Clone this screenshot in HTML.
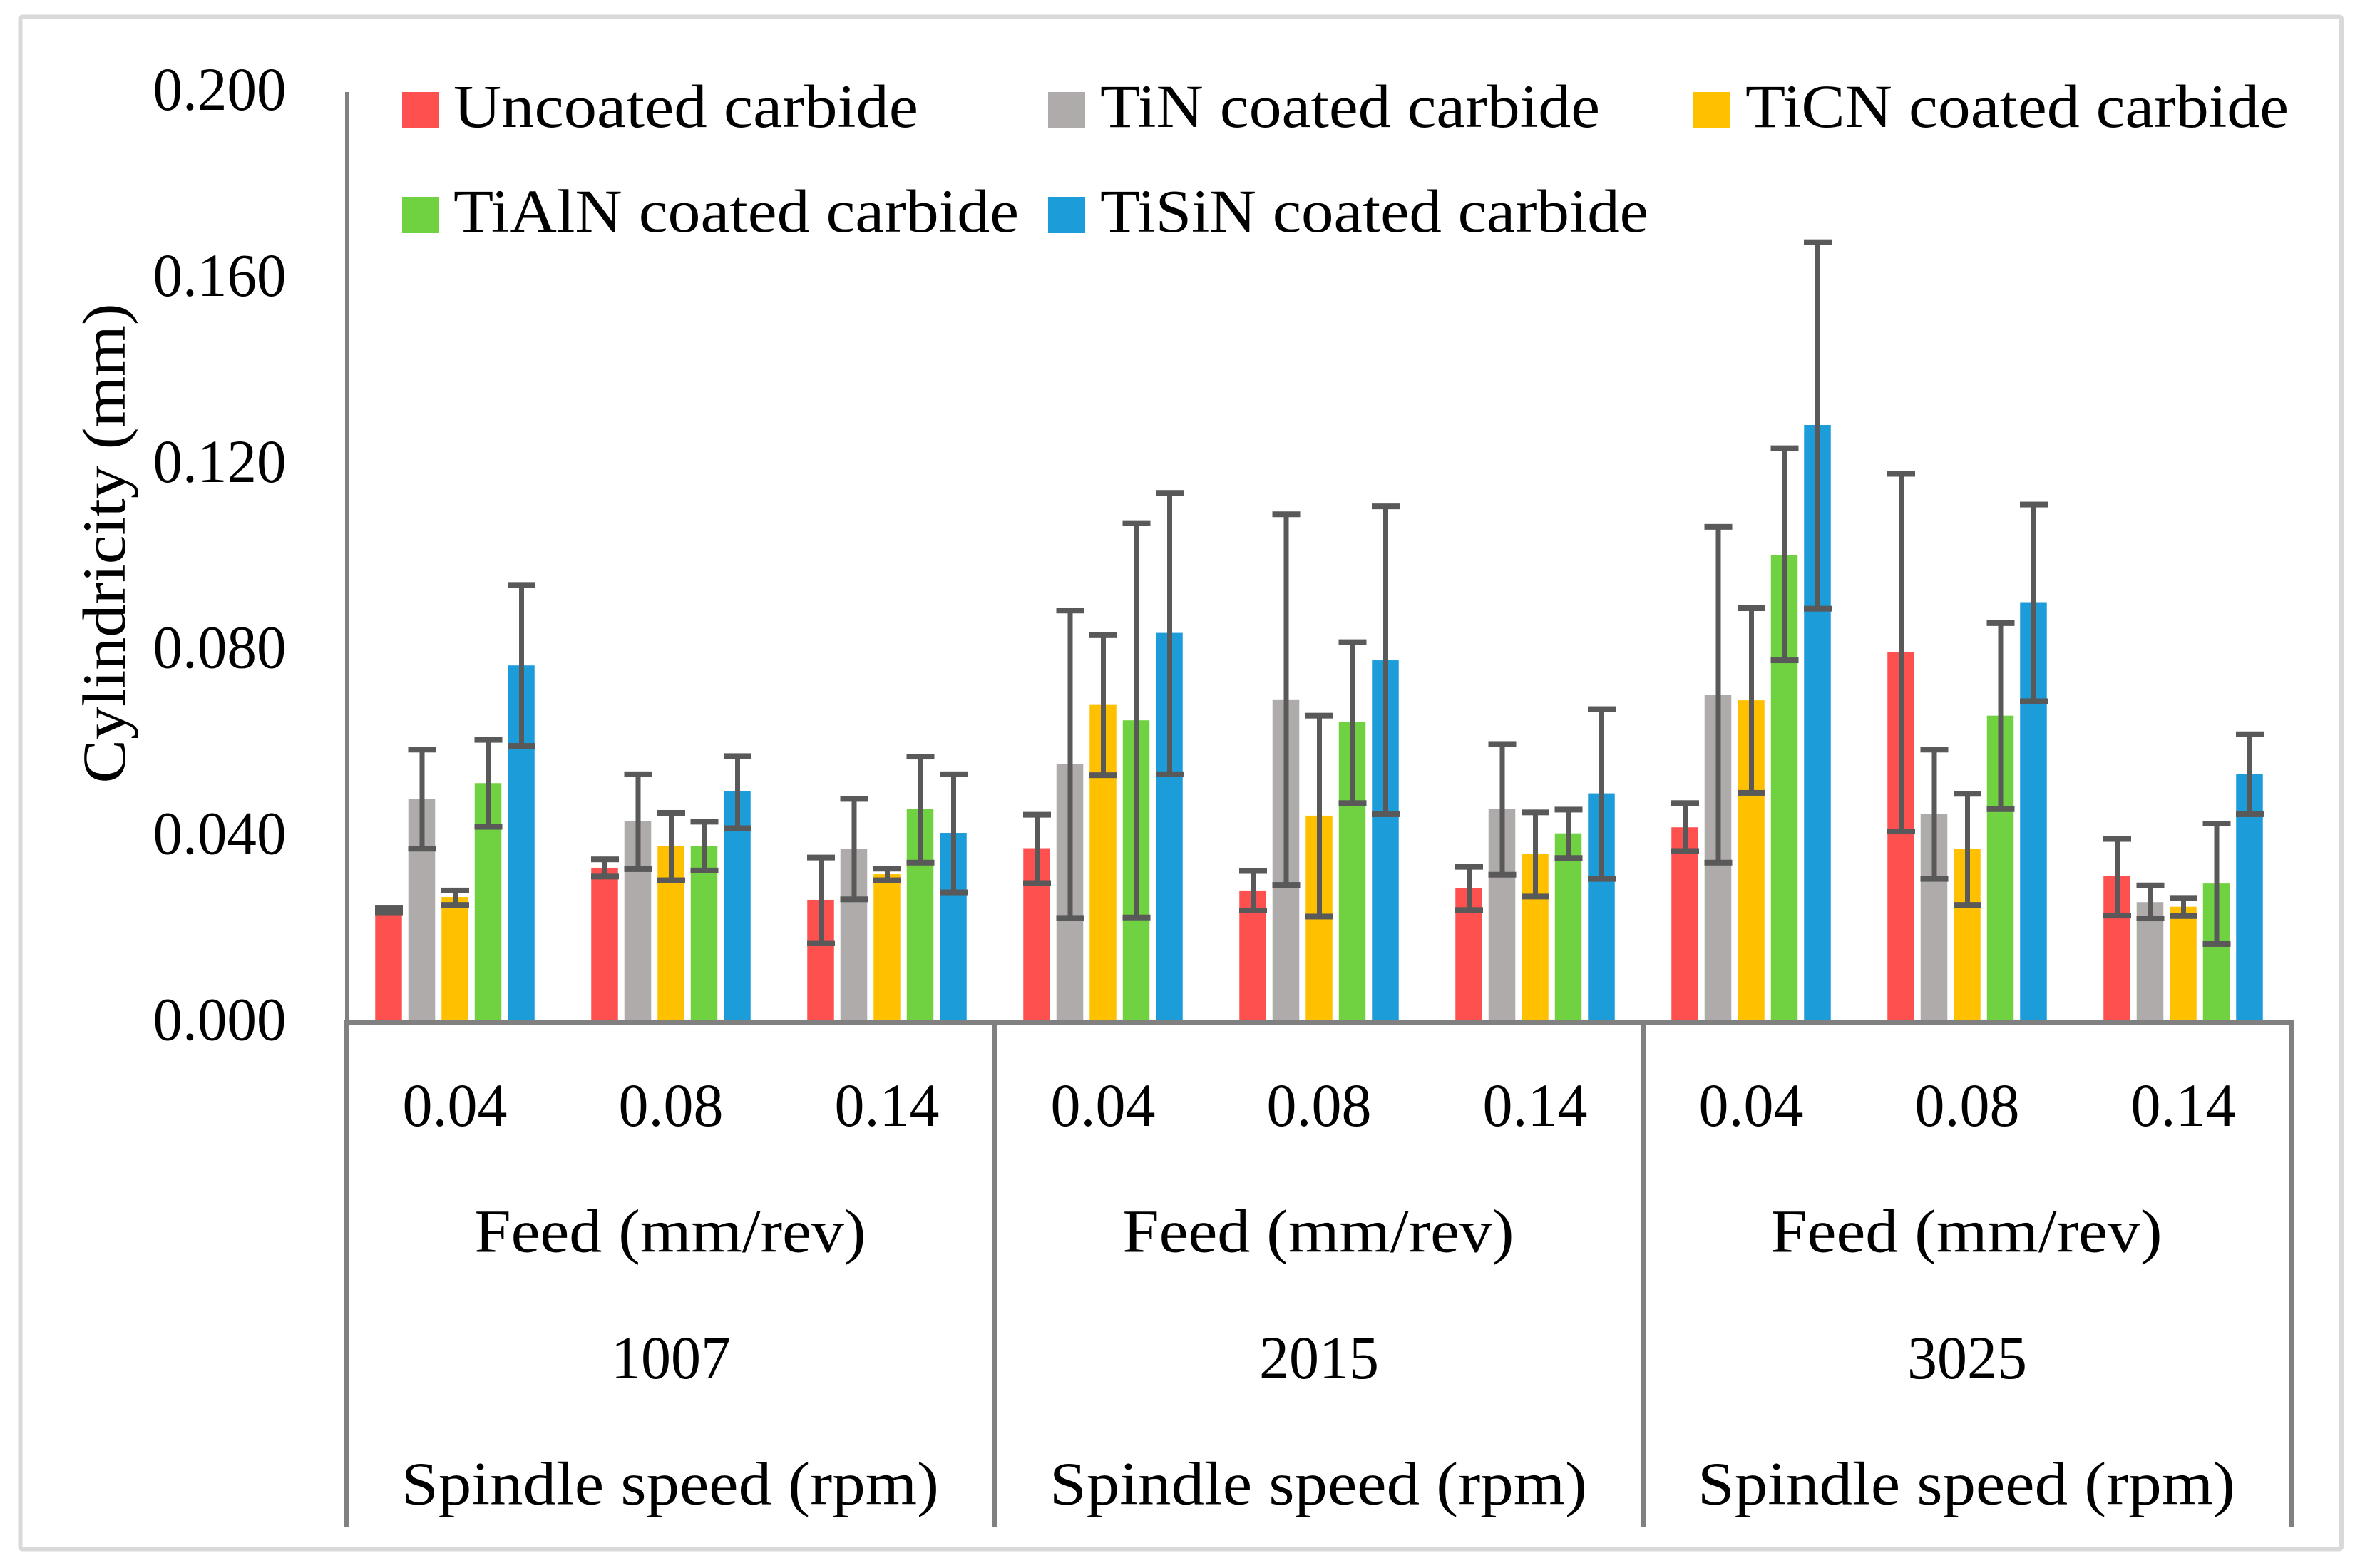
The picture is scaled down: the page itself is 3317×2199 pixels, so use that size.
<!DOCTYPE html>
<html lang="en">
<head>
<meta charset="utf-8">
<title>Cylindricity chart</title>
<style>
html,body{margin:0;padding:0;background:#fff;}
svg{display:block;}
text{font-family:"Liberation Serif",serif;font-size:86px;fill:#000;}
</style>
</head>
<body>
<svg id="chart" xmlns="http://www.w3.org/2000/svg" width="3317" height="2199" viewBox="0 0 3317 2199">
  <rect x="0" y="0" width="3317" height="2199" fill="#ffffff"/>
  <rect x="28.5" y="23.5" width="3255.5" height="2149" rx="3" fill="#ffffff" stroke="#d9d9d9" stroke-width="6"/>
  <g id="marks"></g>
  <g id="axes"></g>
  <g id="labels"></g>
  <text transform="rotate(-90 175 762)" x="175" y="762" text-anchor="middle" textLength="673" lengthAdjust="spacingAndGlyphs">Cylindricity (mm)</text>
  <g>
    <g>
      <rect x="564" y="129" width="52" height="51" fill="#ff5050"/>
      <text x="636" y="178" textLength="652" lengthAdjust="spacingAndGlyphs">Uncoated carbide</text>
    </g>
    <g>
      <rect x="1470" y="129" width="52" height="51" fill="#afabab"/>
      <text x="1543" y="178" textLength="701" lengthAdjust="spacingAndGlyphs">TiN coated carbide</text>
    </g>
    <g>
      <rect x="2375" y="129" width="52" height="51" fill="#ffc000"/>
      <text x="2448" y="178" textLength="762" lengthAdjust="spacingAndGlyphs">TiCN coated carbide</text>
    </g>
    <g>
      <rect x="564" y="276" width="52" height="51" fill="#70d241"/>
      <text x="636" y="325" textLength="793" lengthAdjust="spacingAndGlyphs">TiAlN coated carbide</text>
    </g>
    <g>
      <rect x="1470" y="276" width="52" height="51" fill="#1c9cd9"/>
      <text x="1543" y="325" textLength="769" lengthAdjust="spacingAndGlyphs">TiSiN coated carbide</text>
    </g>
  </g>
</svg>
<script>
const yTickLabels = ["0.000", "0.040", "0.080", "0.120", "0.160", "0.200"];
const yTickValues = [0, 0.04, 0.08, 0.12, 0.16, 0.2];
const feedLabels = ["0.04", "0.08", "0.14", "0.04", "0.08", "0.14", "0.04", "0.08", "0.14"];
const speedLabels = ["1007", "2015", "3025"];
const seriesNames = ["uncoated", "tin", "ticn", "tialn", "tisin"];

const uncoatedValues = [0.0240, 0.0332, 0.0263, 0.0374, 0.0283, 0.0288, 0.0419, 0.0795, 0.0314];
const tinValues      = [0.0480, 0.0432, 0.0372, 0.0555, 0.0694, 0.0459, 0.0704, 0.0447, 0.0258];
const ticnValues     = [0.0269, 0.0378, 0.0318, 0.0682, 0.0444, 0.0361, 0.0692, 0.0372, 0.0248];
const tialnValues    = [0.0514, 0.0379, 0.0458, 0.0649, 0.0645, 0.0406, 0.1005, 0.0659, 0.0298];
const tisinValues    = [0.0767, 0.0496, 0.0407, 0.0837, 0.0778, 0.0492, 0.1284, 0.0903, 0.0533];

const uncoatedUpper = [0.0246, 0.0350, 0.0354, 0.0446, 0.0325, 0.0334, 0.0471, 0.1179, 0.0394];
const uncoatedLower = [0.0236, 0.0313, 0.0170, 0.0299, 0.0240, 0.0241, 0.0368, 0.0410, 0.0229];
const tinUpper      = [0.0586, 0.0533, 0.0480, 0.0885, 0.1092, 0.0598, 0.1065, 0.0586, 0.0294];
const tinLower      = [0.0373, 0.0329, 0.0264, 0.0224, 0.0295, 0.0317, 0.0343, 0.0308, 0.0223];
const ticnUpper     = [0.0283, 0.0450, 0.0330, 0.0832, 0.0659, 0.0451, 0.0890, 0.0491, 0.0267];
const ticnLower     = [0.0252, 0.0305, 0.0305, 0.0531, 0.0227, 0.0270, 0.0493, 0.0252, 0.0228];
const tialnUpper    = [0.0607, 0.0431, 0.0571, 0.1073, 0.0817, 0.0457, 0.1234, 0.0858, 0.0427];
const tialnLower    = [0.0420, 0.0326, 0.0343, 0.0225, 0.0471, 0.0353, 0.0778, 0.0458, 0.0168];
const tisinUpper    = [0.0940, 0.0572, 0.0533, 0.1138, 0.1109, 0.0673, 0.1677, 0.1113, 0.0619];
const tisinLower    = [0.0594, 0.0417, 0.0279, 0.0533, 0.0447, 0.0308, 0.0889, 0.0690, 0.0447];

const seriesValues = [uncoatedValues, tinValues, ticnValues, tialnValues, tisinValues];
const seriesUpper = [uncoatedUpper, tinUpper, ticnUpper, tialnUpper, tisinUpper];
const seriesLower = [uncoatedLower, tinLower, ticnLower, tialnLower, tisinLower];
const seriesColors = ["#ff5050", "#afabab", "#ffc000", "#70d241", "#1c9cd9"];

const SVGNS = "http://www.w3.org/2000/svg";
const plotLeft = 486.5, categoryWidth = 303, y0 = 1433.5, yTop = 129, yMax = 0.2;
const barStep = 46.5, barWidth = 37.5, capWidth = 39, capHeight = 8, stemWidth = 7;

function yScale(v) { return y0 - (v / yMax) * (y0 - yTop); }
function categoryCenter(i) { return plotLeft + categoryWidth * (i + 0.5); }
function barCenter(i, s) { return categoryCenter(i) + (s - 2) * barStep; }

function make(tag, attrs, parent) {
  const el = document.createElementNS(SVGNS, tag);
  for (const k in attrs) el.setAttribute(k, attrs[k]);
  parent.appendChild(el);
  return el;
}

const marks = document.getElementById("marks");
const axes = document.getElementById("axes");
const labels = document.getElementById("labels");

seriesValues.forEach(function (vals, s) {
  vals.forEach(function (v, i) {
    const cx = barCenter(i, s);
    const top = yScale(v);
    const bar = make("rect", { x: cx - barWidth / 2, y: top, width: barWidth, height: y0 - top, fill: seriesColors[s] }, marks);
    
    
  });
});

seriesValues.forEach(function (vals, s) {
  vals.forEach(function (v, i) {
    const cx = barCenter(i, s) + 0.5;
    const up = yScale(seriesUpper[s][i]);
    const lo = yScale(seriesLower[s][i]);
    const err = make("g", { fill: "#595959" }, marks);
    
    
    make("rect", { x: cx - stemWidth / 2, y: up, width: stemWidth, height: lo - up }, err);
    make("rect", { x: cx - capWidth / 2, y: up - capHeight / 2, width: capWidth, height: capHeight }, err);
    make("rect", { x: cx - capWidth / 2, y: lo - capHeight / 2, width: capWidth, height: capHeight }, err);
  });
});

const yAxisLine = make("rect", { x: plotLeft - 2.5, y: yTop, width: 5, height: y0 - yTop, fill: "#808080" }, axes);



const xAxisLine = make("rect", { x: plotLeft - 3.5, y: y0 - 3.5, width: categoryWidth * 9 + 7, height: 7, fill: "#808080" }, axes);



speedLabels.concat([""]).forEach(function (lab, g) {
  const divider = make("rect", { x: plotLeft + g * 3 * categoryWidth - 3.5, y: y0, width: 7, height: 2141.5 - y0, fill: "#808080" }, axes);
  
  
});

yTickLabels.forEach(function (lab, i) {
  const t = make("text", { x: 401.5, y: yScale(yTickValues[i]) + 25, "text-anchor": "end", textLength: 187, lengthAdjust: "spacingAndGlyphs" }, labels);
  t.textContent = lab;
  
  
});

feedLabels.forEach(function (lab, i) {
  const t = make("text", { x: categoryCenter(i), y: 1579, "text-anchor": "middle", textLength: 147, lengthAdjust: "spacingAndGlyphs" }, labels);
  t.textContent = lab;
  
  
});

speedLabels.forEach(function (lab, g) {
  const cx = plotLeft + categoryWidth * (3 * g + 1.5);
  const feed = make("text", { x: cx - 1, y: 1755.5, "text-anchor": "middle", textLength: 549, lengthAdjust: "spacingAndGlyphs" }, labels);
  feed.textContent = "Feed (mm/rev)";
  
  

  const speed = make("text", { x: cx, y: 1933, "text-anchor": "middle", textLength: 168, lengthAdjust: "spacingAndGlyphs" }, labels);
  speed.textContent = lab;
  
  

  const spindle = make("text", { x: cx - 1, y: 2109.5, "text-anchor": "middle", textLength: 754, lengthAdjust: "spacingAndGlyphs" }, labels);
  spindle.textContent = "Spindle speed (rpm)";
  
  
});
</script>
</body>
</html>
